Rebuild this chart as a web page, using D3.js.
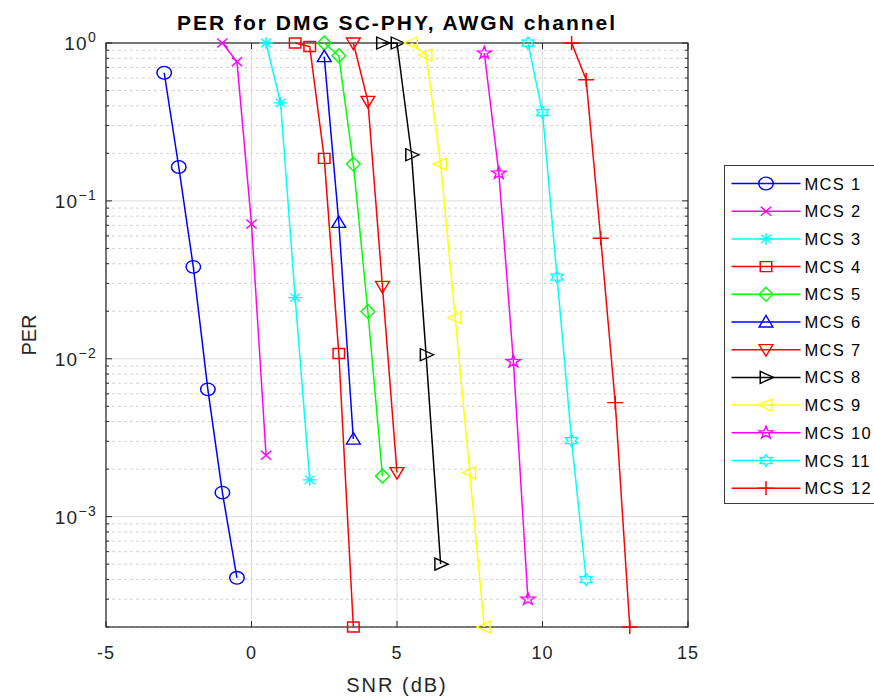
<!DOCTYPE html>
<html>
<head>
<meta charset="utf-8">
<script src="https://cdn.jsdelivr.net/npm/d3@7"></script>
<style>
  body { margin: 0; background: #fff; overflow: hidden; }
  svg { display: block; }
  text { font-family: "Liberation Sans", Arial, sans-serif; fill: #262626; }
</style>
</head>
<body>
<svg width="874" height="698"></svg>
<script>
// PER curves
const seriesNames = ["MCS 1", "MCS 2", "MCS 3", "MCS 4", "MCS 5", "MCS 6",
  "MCS 7", "MCS 8", "MCS 9", "MCS 10", "MCS 11", "MCS 12"];

const snrValues = [
  [-3, -2.5, -2, -1.5, -1, -0.5],
  [-1, -0.5, 0, 0.5],
  [0.5, 1, 1.5, 2],
  [1.5, 2, 2.5, 3, 3.5],
  [2.5, 3, 3.5, 4, 4.5],
  [2.5, 3, 3.5],
  [3.5, 4, 4.5, 5],
  [4.5, 5, 5.5, 6, 6.5],
  [5.5, 6, 6.5, 7, 7.5, 8],
  [8, 8.5, 9, 9.5],
  [9.5, 10, 10.5, 11, 11.5],
  [11, 11.5, 12, 12.5, 13]
];

const perValues = [
  [0.648, 0.164, 0.0382, 0.0064, 0.00142, 0.00041],
  [1, 0.76, 0.0713, 0.00245],
  [1, 0.418, 0.0244, 0.00171],
  [1, 0.95, 0.186, 0.0108, 0.0002],
  [1, 0.83, 0.171, 0.0199, 0.00181],
  [0.82, 0.073, 0.0031],
  [1, 0.427, 0.0287, 0.0019],
  [1, 1, 0.196, 0.0106, 0.0005],
  [1, 0.84, 0.171, 0.0182, 0.0019, 0.0002],
  [0.864, 0.15, 0.0096, 0.0003],
  [1, 0.363, 0.0329, 0.00303, 0.0004],
  [1, 0.585, 0.058, 0.00527, 0.0002]
];

const xTicks = [-5, 0, 5, 10, 15];
const yTickExponents = [0, -1, -2, -3];

const colors = ["#0000ff", "#ff00ff", "#00ffff", "#ff0000", "#00ff00", "#0000ff",
  "#ff0000", "#000000", "#ffff00", "#ff00ff", "#00ffff", "#ff0000"];
const markers = ["circle", "x", "asterisk", "square", "diamond", "triUp",
  "triDown", "triRight", "triLeft", "pentagram", "hexagram", "plus"];

const svg = d3.select("svg");
const width = +svg.attr("width");
const height = +svg.attr("height");

const margin = { top: 43, right: 186, bottom: 72, left: 106 };
const innerWidth = width - margin.left - margin.right;
const innerHeight = height - margin.top - margin.bottom + 1;

const xScale = d3.scaleLinear().domain([-5, 15]).range([0, innerWidth]);
const yScale = d3.scaleLog().domain([2e-4, 1]).range([innerHeight, 0]);

// markers in the source look a little wider than tall
const stretchX = 1.15;

const starPath = (n, R, r) => {
  let p = "";
  for (let i = 0; i < 2 * n; i++) {
    const a = -Math.PI / 2 + i * Math.PI / n;
    const rr = i % 2 === 0 ? R : r;
    p += (i === 0 ? "M" : "L") + (rr * Math.cos(a)).toFixed(2) + "," + (rr * Math.sin(a)).toFixed(2);
  }
  return p + "Z";
};

const markerPath = {
  circle: "M6.3,0A6.3,6.3 0 1,1 -6.3,0A6.3,6.3 0 1,1 6.3,0Z",
  x: "M-4.5,-4.5L4.5,4.5M-4.5,4.5L4.5,-4.5",
  asterisk: "M-6,0L6,0M0,-6L0,6M-4.2,-4.2L4.2,4.2M-4.2,4.2L4.2,-4.2",
  square: "M-5,-5H5V5H-5Z",
  diamond: "M0,-7L6,0L0,7L-6,0Z",
  triUp: "M0,-6.5L6,5L-6,5Z",
  triDown: "M0,6.5L6,-5L-6,-5Z",
  triRight: "M6.5,0L-5,-6L-5,6Z",
  triLeft: "M-6.5,0L5,-6L5,6Z",
  pentagram: starPath(5, 6.5, 2.6),
  hexagram: starPath(6, 6, 3.4),
  plus: "M-7,0H7M0,-7V7"
};

const g = svg.append("g")
  .attr("transform", `translate(${margin.left},${margin.top})`);

// grid
const minorY = yScale.ticks().filter(v => Math.abs(Math.log10(v) - Math.round(Math.log10(v))) > 1e-6);
const majorY = yTickExponents.map(e => Math.pow(10, e));

g.selectAll(".minor-grid").data(minorY).enter().append("line")
  .attr("x1", 0).attr("x2", innerWidth)
  .attr("y1", d => yScale(d)).attr("y2", d => yScale(d))
  .attr("stroke", "#d4d4d4").attr("stroke-width", 1)
  .attr("stroke-dasharray", "3,3");

g.selectAll(".major-grid-y").data(majorY).enter().append("line")
  .attr("x1", 0).attr("x2", innerWidth)
  .attr("y1", d => yScale(d)).attr("y2", d => yScale(d))
  .attr("stroke", "#dcdcdc").attr("stroke-width", 1);

g.selectAll(".major-grid-x").data(xTicks).enter().append("line")
  .attr("x1", d => xScale(d)).attr("x2", d => xScale(d))
  .attr("y1", 0).attr("y2", innerHeight)
  .attr("stroke", "#dcdcdc").attr("stroke-width", 1);

// box and ticks
const axisColor = "#262626";
g.append("rect")
  .attr("x", 0).attr("y", 0)
  .attr("width", innerWidth).attr("height", innerHeight)
  .attr("fill", "none").attr("stroke", axisColor).attr("stroke-width", 1.2);

xTicks.forEach(t => {
  g.append("line").attr("x1", xScale(t)).attr("x2", xScale(t))
    .attr("y1", innerHeight).attr("y2", innerHeight - 6).attr("stroke", axisColor);
  g.append("line").attr("x1", xScale(t)).attr("x2", xScale(t))
    .attr("y1", 0).attr("y2", 6).attr("stroke", axisColor);
});
majorY.forEach(t => {
  g.append("line").attr("x1", 0).attr("x2", 6)
    .attr("y1", yScale(t)).attr("y2", yScale(t)).attr("stroke", axisColor);
  g.append("line").attr("x1", innerWidth).attr("x2", innerWidth - 6)
    .attr("y1", yScale(t)).attr("y2", yScale(t)).attr("stroke", axisColor);
});
minorY.forEach(t => {
  g.append("line").attr("x1", 0).attr("x2", 3)
    .attr("y1", yScale(t)).attr("y2", yScale(t)).attr("stroke", axisColor);
  g.append("line").attr("x1", innerWidth).attr("x2", innerWidth - 3)
    .attr("y1", yScale(t)).attr("y2", yScale(t)).attr("stroke", axisColor);
});

// tick labels
g.selectAll(".xlab").data(xTicks).enter().append("text")
  .attr("x", d => xScale(d))
  .attr("y", innerHeight + 32)
  .attr("text-anchor", "middle")
  .attr("font-size", 18)
  .attr("letter-spacing", 1)
  .text(d => d);

const yLabels = g.selectAll(".ylab").data(yTickExponents).enter().append("text")
  .attr("x", -9)
  .attr("y", d => yScale(Math.pow(10, d)) + 7)
  .attr("text-anchor", "end")
  .attr("font-size", 19)
  .attr("letter-spacing", 1.3);
yLabels.append("tspan").text("10");
yLabels.append("tspan")
  .attr("font-size", 14)
  .attr("dy", -8)
  .text(d => d === 0 ? "0" : "\u2212" + Math.abs(d));

// axis labels and title
g.append("text")
  .attr("x", innerWidth / 2)
  .attr("y", innerHeight + 65)
  .attr("text-anchor", "middle")
  .attr("font-size", 20)
  .attr("letter-spacing", 2)
  .text("SNR (dB)");

g.append("text")
  .attr("transform", `translate(-70,${innerHeight / 2}) rotate(-90)`)
  .attr("text-anchor", "middle")
  .attr("font-size", 20)
  .text("PER");

svg.append("text")
  .attr("x", margin.left + innerWidth / 2)
  .attr("y", 30)
  .attr("text-anchor", "middle")
  .attr("font-size", 21)
  .attr("font-weight", "bold")
  .attr("letter-spacing", 2)
  .style("fill", "#000")
  .text("PER for DMG SC-PHY, AWGN channel");

// series
const series = seriesNames.map((name, i) => ({
  name,
  color: colors[i],
  marker: markers[i],
  points: snrValues[i].map((s, j) => ({ snr: s, per: perValues[i][j] }))
}));

const line = d3.line()
  .x(d => xScale(d.snr))
  .y(d => yScale(d.per));

const sg = g.selectAll(".series").data(series).enter().append("g");

sg.append("path")
  .attr("d", d => line(d.points))
  .attr("fill", "none")
  .attr("stroke", d => d.color)
  .attr("stroke-width", 1.5);

sg.each(function (s) {
  d3.select(this).selectAll(".mk").data(s.points).enter().append("path")
    .attr("transform", d => `translate(${xScale(d.snr)},${yScale(d.per)}) scale(${stretchX},1)`)
    .attr("d", markerPath[s.marker])
    .attr("fill", "none")
    .attr("stroke", s.color)
    .attr("stroke-width", 1.3);
});

// legend (runs off the right edge, as in the source)
const legend = svg.append("g").attr("transform", "translate(724.5,165.5)");
legend.append("rect")
  .attr("width", 170).attr("height", 338)
  .attr("fill", "#fff").attr("stroke", "#3a3a3a").attr("stroke-width", 1);

const item = legend.selectAll(".item").data(series).enter().append("g")
  .attr("transform", (d, i) => `translate(0,${18 + i * 27.7})`);

item.append("line")
  .attr("x1", 7).attr("x2", 76)
  .attr("stroke", d => d.color).attr("stroke-width", 1.5);
item.append("path")
  .attr("transform", `translate(41.5,0) scale(${stretchX},1)`)
  .attr("d", d => markerPath[d.marker])
  .attr("fill", "none")
  .attr("stroke", d => d.color)
  .attr("stroke-width", 1.3);
item.append("text")
  .attr("x", 80)
  .attr("y", 6)
  .attr("font-size", 16.5)
  .attr("letter-spacing", 1.3)
  .style("fill", "#000")
  .text(d => d.name);
</script>
</body>
</html>
